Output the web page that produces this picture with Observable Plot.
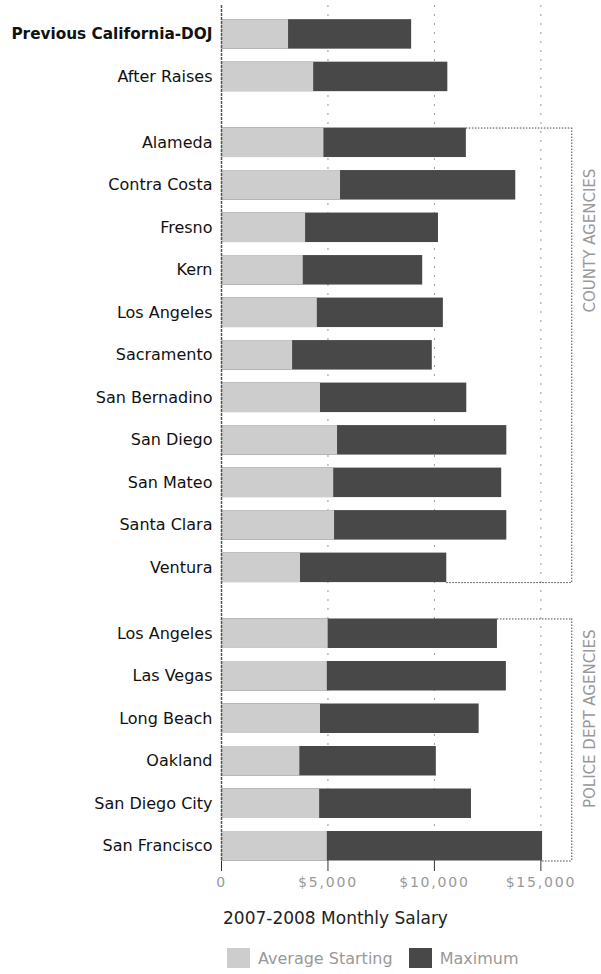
<!DOCTYPE html>
<html><head><meta charset="utf-8">
<script src="https://cdn.jsdelivr.net/npm/d3@7"></script>
<script src="https://cdn.jsdelivr.net/npm/@observablehq/plot@0.6"></script>
<style>
body{margin:0;background:#fff;font-family:"DejaVu Sans",sans-serif}
#chart{width:601px}
#chart svg{display:block}
#chart svg .tick line, #chart svg g[aria-label="x-axis tick"]{stroke:#333}
#chart svg .tick text, #chart svg g[aria-label="x-axis tick label"] text{font-size:14px;letter-spacing:1.8px}
.title{margin:8px 0 0 223px;font-size:17px;color:#222;line-height:20px}
.legend{margin:20px 0 0 227px;display:flex;align-items:center;font-size:16px;color:#999}
.sw{width:23px;height:20px;display:inline-block;margin-right:8px}
.item{display:flex;align-items:center;margin-right:16px}
</style></head><body>
<div id="chart"></div>
<div class="title">2007-2008 Monthly Salary</div>
<div class="legend" id="legend"></div>
<script>
const agencies = ["Previous California-DOJ","After Raises","Alameda","Contra Costa","Fresno","Kern","Los Angeles","Sacramento","San Bernadino","San Diego","San Mateo","Santa Clara","Ventura","Los Angeles","Las Vegas","Long Beach","Oakland","San Diego City","San Francisco"];
const groupOf = [0,0,1,1,1,1,1,1,1,1,1,1,1,2,2,2,2,2,2];
const startSalary = [3150,4330,4810,5590,3950,3840,4500,3340,4650,5450,5270,5310,3710,5010,4970,4650,3680,4610,4970];
const maxSalary = [8930,10630,11500,13820,10190,9450,10420,9900,11520,13400,13160,13400,10580,12960,13380,12100,10090,11740,15080];
const groupLabels = ["", "COUNTY AGENCIES", "POLICE DEPT AGENCIES"];
const xTicks = [0,5000,10000,15000];
const tickLabels = ["0","$5,000","$10,000","$15,000"];
const seriesNames = ["Average Starting","Maximum"];

const LIGHT = "#cdcdcd", DARK = "#484848";
const GAP = 0.55, H = 0.347, BX = 16450, LX = 17330;
const rows = agencies.map((name,i)=>({name, i, g: groupOf[i], start: startSalary[i], max: maxSalary[i], p: i + GAP*groupOf[i]}));
const groups = [1,2].map(g=>{const r = rows.filter(d=>d.g===g); return {g, label: groupLabels[g], first: r[0], last: r[r.length-1]};});
const labelOffset = {1: 2.3, 2: 2.0};

const chart = Plot.plot({
  width: 601, height: 900,
  marginLeft: 221, marginRight: 1, marginTop: 5, marginBottom: 40,
  style: {fontFamily: '"DejaVu Sans", sans-serif', fontSize: "15px", color: "#999", background: "white", overflow: "visible"},
  x: {domain: [0, 17800], ticks: xTicks, tickFormat: d => tickLabels[xTicks.indexOf(d)], tickSize: 11, tickPadding: 6, label: null},
  y: {domain: [-0.68, 19.435], reverse: true, axis: null},
  marks: [
    Plot.ruleX(xTicks.slice(1), {y1: -0.68, y2: 19.435, stroke: "#999", strokeDasharray: "2,7"}),
    Plot.rect(rows, {x1: 0, x2: "max", y1: d=>d.p-H, y2: d=>d.p+H, fill: DARK}),
    Plot.rect(rows, {x1: 0, x2: "start", y1: d=>d.p-H, y2: d=>d.p+H, fill: LIGHT}),
    Plot.ruleX([0], {y1: -0.68, y2: 19.435, stroke: "#555", strokeWidth: 1.5, strokeDasharray: "3,1"}),
    // brackets
    Plot.ruleY(groups, {y: d=>d.first.p-H, x1: d=>d.first.max, x2: BX, stroke: "#444", strokeDasharray: "1.5,1.5"}),
    Plot.ruleY(groups, {y: d=>d.last.p+H, x1: d=>d.last.max, x2: BX, stroke: "#444", strokeDasharray: "1.5,1.5"}),
    Plot.ruleX(groups, {x: BX, y1: d=>d.first.p-H, y2: d=>d.last.p+H, stroke: "#444", strokeDasharray: "1.5,1.5"}),
    Plot.text(groups, {x: LX, y: d=>d.first.p + labelOffset[d.g], text: "label", rotate: -90, fill: "#999", fontSize: 15, textAnchor: "middle"}),
    // row labels
    Plot.text(rows.filter(d=>d.i>0), {x: 0, y: "p", text: "name", dx: -9, textAnchor: "end", fill: "#111", fontSize: 16}),
    Plot.text(rows.filter(d=>d.i===0), {x: 0, y: "p", text: "name", dx: -9, textAnchor: "end", fill: "#111", fontSize: 15.3, fontWeight: "bold"})
  ]
});
document.getElementById("chart").appendChild(chart);

const legend = document.getElementById("legend");
[LIGHT, DARK].forEach((c,k)=>{
  const it = document.createElement("span"); it.className="item";
  const sw = document.createElement("span"); sw.className="sw"; sw.style.background=c;
  it.appendChild(sw); it.appendChild(document.createTextNode(seriesNames[k]));
  legend.appendChild(it);
});
</script>
</body></html>
